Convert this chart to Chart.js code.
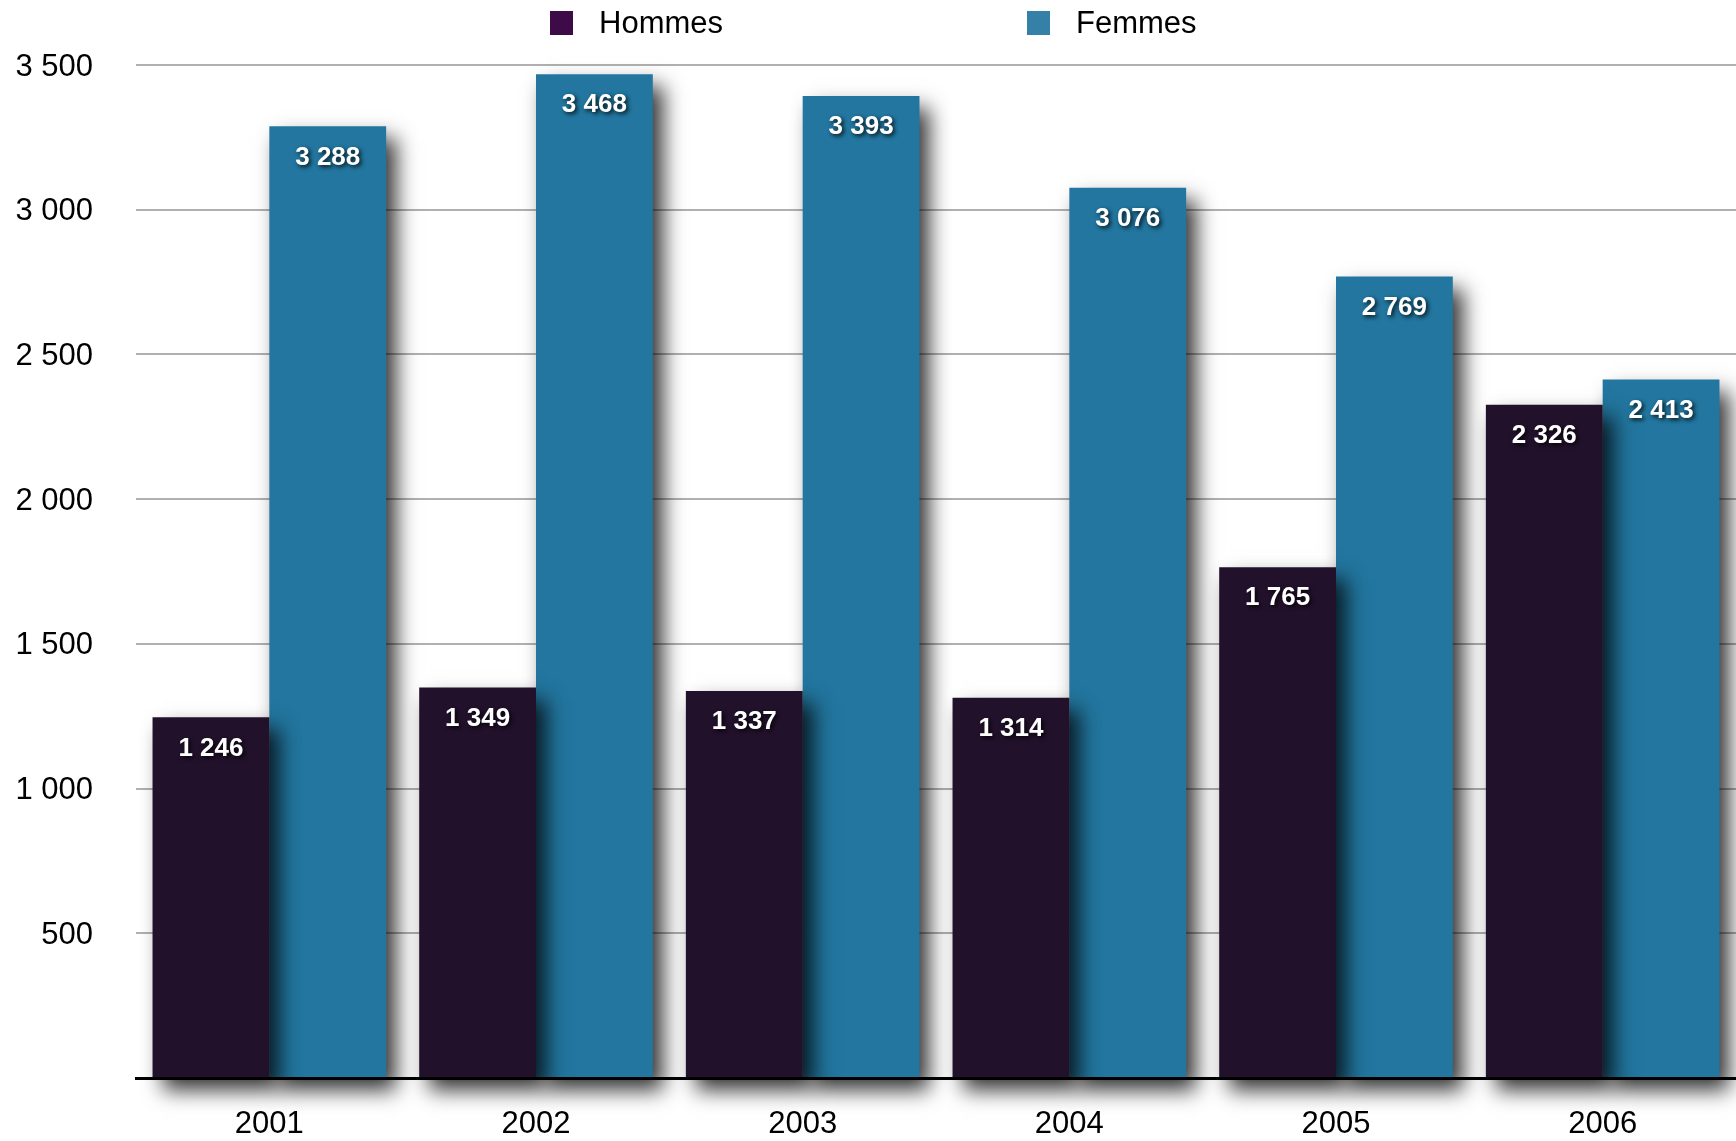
<!DOCTYPE html>
<html lang="fr">
<head>
<meta charset="utf-8">
<title>Hommes / Femmes 2001-2006</title>
<script src="https://cdn.jsdelivr.net/npm/chart.js@4.4.1/dist/chart.umd.min.js"></script>
<style>
    html, body { margin: 0; padding: 0; background: #fff; }
    .chart-wrap { position: relative; width: 1736px; height: 1141px; font-family: 'Liberation Sans', Arial, sans-serif; }
    .legend { position: absolute; top: 0; left: 0; width: 100%; height: 48px; }
    .legend-item { position: absolute; top: 6px; display: flex; align-items: center; font-size: 31px; line-height: 34px; color: #000; }
    .legend-item .swatch { width: 23px; height: 24px; margin-right: 26px; }
</style>
</head>
<body>
<div class="chart-wrap">
    <!-- LEGEND -->
    <div class="legend" id="legend"></div>
    <canvas id="barChart"></canvas>
</div>
<script>
// data
const years = ['2001', '2002', '2003', '2004', '2005', '2006'];
const hommes = [1246, 1349, 1337, 1314, 1765, 2326];
const femmes = [3288, 3468, 3393, 3076, 2769, 2413];
const yTicks = [500, 1000, 1500, 2000, 2500, 3000, 3500];
const seriesLabels = ['Hommes', 'Femmes'];

const barColors = ['#22112b', '#22769f'];
const legendColors = ['#3d0b48', '#3480a6'];
const legendLeft = [550, 1027];

const FONT = "'Liberation Sans', Arial, sans-serif";

// "3500" -> "3 500"
const fmt = (v) => String(v).replace(/\B(?=(\d{3})+(?!\d))/g, ' ');

// drop shadow behind every bar
const barShadow = {
    id: 'barShadow',
    beforeDatasetDraw(chart) {
        const ctx = chart.ctx;
        ctx.save();
        ctx.shadowColor = 'rgba(0, 0, 0, 0.8)';
        ctx.shadowBlur = 20;
        ctx.shadowOffsetX = 10;
        ctx.shadowOffsetY = 12;
    },
    afterDatasetDraw(chart) {
        chart.ctx.restore();
    }
};

// white value labels inside the top of each bar
const barLabels = {
    id: 'barLabels',
    afterDatasetsDraw(chart) {
        const ctx = chart.ctx;
        ctx.save();
        ctx.font = `bold 26px ${FONT}`;
        ctx.fillStyle = '#ffffff';
        ctx.textAlign = 'center';
        ctx.textBaseline = 'middle';
        ctx.shadowColor = 'rgba(0, 0, 0, 0.85)';
        ctx.shadowBlur = 4;
        ctx.shadowOffsetX = 2;
        ctx.shadowOffsetY = 2;
        chart.data.datasets.forEach((ds, i) => {
            chart.getDatasetMeta(i).data.forEach((bar, j) => {
                ctx.fillText(fmt(ds.data[j]), bar.x, bar.y + 31);
            });
        });
        ctx.restore();
    }
};

function renderLegend() {
    const box = document.getElementById('legend');
    box.innerHTML = seriesLabels.map((name, i) => `
        <div class="legend-item" style="left:${legendLeft[i]}px">
            <span class="swatch" style="background:${legendColors[i]}"></span>${name}
        </div>
    `).join('');
}

function initChart() {
    const ctx = document.getElementById('barChart').getContext('2d');
    new Chart(ctx, {
        type: 'bar',
        data: {
            labels: years,
            datasets: [
                { label: seriesLabels[0], data: hommes, backgroundColor: barColors[0], clip: false },
                { label: seriesLabels[1], data: femmes, backgroundColor: barColors[1], clip: false }
            ]
        },
        options: {
            responsive: true,
            maintainAspectRatio: false,
            animation: false,
            layout: { padding: { top: 65, right: 0, bottom: 0, left: 0 } },
            datasets: { bar: { barPercentage: 1, categoryPercentage: 0.876 } },
            scales: {
                x: {
                    grid: { display: false },
                    border: { display: true, color: '#000', width: 3, z: 1 },
                    ticks: { color: '#000', font: { family: FONT, size: 31 }, padding: 20 },
                    afterFit: (scale) => { scale.height = 63; }
                },
                y: {
                    min: 0,
                    max: 3500,
                    afterBuildTicks: (scale) => { scale.ticks = yTicks.map(v => ({ value: v })); },
                    grid: { color: '#b0b0b0', lineWidth: 2, drawTicks: false },
                    border: { display: false },
                    ticks: {
                        color: '#000',
                        padding: 43,
                        labelOffset: 2,
                        font: { family: FONT, size: 31 },
                        callback: (v) => fmt(v)
                    },
                    afterFit: (scale) => { scale.width = 136; }
                }
            },
            plugins: {
                legend: { display: false },
                tooltip: { enabled: false }
            }
        },
        plugins: [barShadow, barLabels]
    });
}

renderLegend();
initChart();
</script>
</body>
</html>
